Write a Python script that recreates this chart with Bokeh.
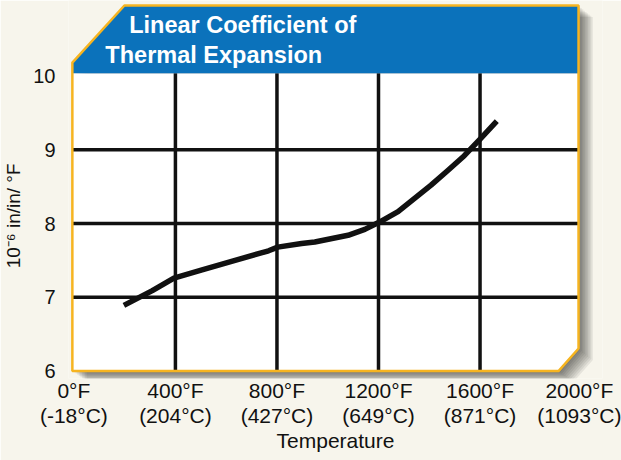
from bokeh.plotting import figure
from bokeh.models import Range1d, FixedTicker, Label
from bokeh.embed import file_html
from bokeh.resources import INLINE

# ---- data ----
temps_f = [197, 309, 394, 505, 635, 767, 803, 897, 949, 1080, 1146, 1204,
           1277, 1342, 1407, 1473, 1538, 1604, 1666]
coef = [6.89, 7.09, 7.26, 7.37, 7.50, 7.63, 7.68, 7.73, 7.75, 7.84, 7.92, 8.02,
        8.16, 8.34, 8.52, 8.72, 8.92, 9.16, 9.39]

x_ticks = [0, 400, 800, 1200, 1600, 2000]
x_tick_f = ["0°F", "400°F", "800°F", "1200°F", "1600°F", "2000°F"]
x_tick_c = ["(-18°C)", "(204°C)", "(427°C)", "(649°C)", "(871°C)", "(1093°C)"]
y_ticks = [6, 7, 8, 9, 10]
title_lines = ["Linear Coefficient of", "Thermal Expansion"]
x_title = "Temperature"
y_title = "10⁻⁶ in/in/ °F"

# ---- styles ----
BG = "#F7F5EC"
BLUE = "#0B72BB"
GOLD = "#F6B420"
INK = "#111111"
FONT = "Liberation Sans"

FRAME_W, FRAME_H = 536, 378
X0, X1 = -21.2, 2082.4
Y0, Y1 = 5.897, 11.026
PX_X = (X1 - X0) / FRAME_W   # data units per pixel (x)
PX_Y = (Y1 - Y0) / FRAME_H   # data units per pixel (y)

p = figure(width=621, height=460,
           x_range=Range1d(X0, X1), y_range=Range1d(Y0, Y1),
           output_backend="svg", toolbar_location=None,
           min_border_left=66, min_border_right=19,
           min_border_top=0, min_border_bottom=82,
           background_fill_color=BG, border_fill_color=BG,
           outline_line_color=None)
p.grid.visible = False

# panel geometry (chart frame drawn as shapes)
left, right = -6, 1988
top_plot = 10.04
top_banner = 10.958
cham_tl = (199, 10.184)
cham_br = (1910, 6.304)
bottom = y_ticks[0]

outline_x = [left, left, cham_tl[0], right, right, cham_br[0]]
outline_y = [bottom, cham_tl[1], top_banner, top_banner, cham_br[1], bottom]

# soft shadow
for k in range(1, 10):
    d = 1.6 * k
    p.patch([v + d * PX_X for v in outline_x], [v - d * 0.8 * PX_Y for v in outline_y],
            fill_color="black", fill_alpha=0.07, line_color=None)

# white plot area
p.patch([left, left, right, right, cham_br[0]],
        [bottom, top_plot, top_plot, cham_br[1], bottom],
        fill_color="white", line_color=None)

# grid lines
vx = x_ticks[1:-1]
p.segment(x0=vx, y0=[bottom] * len(vx), x1=vx, y1=[top_plot] * len(vx),
          line_color=INK, line_width=3.5)
hy = y_ticks[1:-1]
p.segment(x0=[left] * len(hy), y0=hy, x1=[right] * len(hy), y1=hy,
          line_color=INK, line_width=3.6)

# data curve
p.line(temps_f, coef, line_color=INK, line_width=5.5, line_join="round")

# banner
p.patch([left, left, cham_tl[0], right, right],
        [top_plot, cham_tl[1], top_banner, top_banner, top_plot],
        fill_color=BLUE, line_color=None)

# gold outline
p.patch(outline_x, outline_y, fill_color=None, line_color=GOLD, line_width=2.5)

# title
for txt, tx, ty in zip(title_lines, [218, 124], [10.578 + 9 * PX_Y, 10.171 + 8.5 * PX_Y]):
    p.add_layout(Label(x=tx, y=ty, text=txt, text_color="white",
                       text_font=FONT, text_font_style="bold", text_font_size="23.5px",
                       text_baseline="alphabetic", level="overlay"))

# axes
xa = p.xaxis[0]
xa.ticker = FixedTicker(ticks=x_ticks)
xa.major_label_overrides = {t: f"{a}\n{b}" for t, a, b in zip(x_ticks, x_tick_f, x_tick_c)}
xa.major_label_text_font = FONT
xa.major_label_text_font_size = "21px"
xa.major_label_text_color = INK
xa.major_label_text_line_height = 1.1
xa.major_label_standoff = -6
xa.major_tick_line_color = None
xa.minor_tick_line_color = None
xa.axis_line_color = None
xa.axis_label = x_title
xa.axis_label_text_font = FONT
xa.axis_label_text_font_style = "normal"
xa.axis_label_text_font_size = "21px"
xa.axis_label_text_color = INK
xa.axis_label_standoff = -1

ya = p.yaxis[0]
ya.ticker = FixedTicker(ticks=y_ticks)
ya.major_label_text_font = FONT
ya.major_label_text_font_size = "20px"
ya.major_label_text_color = INK
ya.major_label_standoff = 7
ya.major_tick_line_color = None
ya.minor_tick_line_color = None
ya.axis_line_color = None
ya.axis_label = y_title + "\u00a0" * 10
ya.axis_label_text_font = FONT
ya.axis_label_text_font_style = "normal"
ya.axis_label_text_font_size = "19px"
ya.axis_label_text_color = INK
ya.axis_label_standoff = 6

open("out.html", "w").write(file_html(p, INLINE))
